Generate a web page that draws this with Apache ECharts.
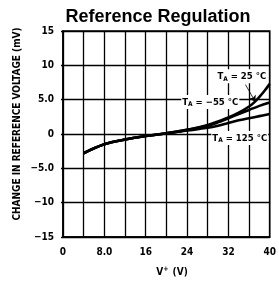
<!DOCTYPE html>
<html><head><meta charset="utf-8">
<script src="https://cdn.jsdelivr.net/npm/echarts@6/dist/echarts.min.js"></script>
<style>html,body{margin:0;padding:0;background:#fff}#c{width:279px;height:285px}</style>
</head><body><div id="c"></div>
<script>
const title = 'Reference Regulation';
const yAxisTitle = 'CHANGE IN REFERENCE VOLTAGE (mV)';
const xTicks = [0, 8, 16, 24, 32, 40];
const yTicks = [-15, -10, -5, 0, 5, 10, 15];

const v25 = [4, 8, 12, 16, 20, 24, 28, 32, 34, 36, 37, 38, 39, 40];
const d25 = [-2.8, -1.5, -0.8, -0.3, 0.1, 0.6, 1.3, 2.4, 3.1, 4.0, 4.6, 5.4, 6.3, 7.3];
const vM55 = [4, 8, 12, 16, 20, 24, 28, 30, 32, 34, 36, 38, 40];
const dM55 = [-2.8, -1.5, -0.8, -0.3, 0.1, 0.6, 1.2, 1.7, 2.3, 2.9, 3.5, 4.1, 4.6];
const v125 = [4, 8, 12, 16, 20, 24, 28, 30, 32, 34, 36, 38, 40];
const d125 = [-2.8, -1.5, -0.8, -0.3, 0.1, 0.5, 0.9, 1.2, 1.6, 2.0, 2.3, 2.6, 2.9];

const FONT = "'Liberation Sans Narrow','DejaVu Sans Condensed','Roboto Condensed',sans-serif";
const pair = (xs, ys) => xs.map((x, i) => [x, ys[i]]);
const lineStyle = {color: '#000', width: 2.6};
const lbl = (t) => ({
  show: true, position: 'inside', color: '#000', fontFamily: FONT, fontWeight: 'bold', fontSize: 9.5,
  backgroundColor: '#fff', padding: [1, 1],
  formatter: '{a|T}{s|A}{a| = ' + t + '°C}',
  rich: {a: {fontFamily: FONT, fontWeight: 'bold', fontSize: 9.5, color: '#000'},
         s: {fontFamily: FONT, fontWeight: 'bold', fontSize: 6.5, color: '#000', verticalAlign: 'bottom', padding: [5, 0, 0, 0]}}
});

const chart = echarts.init(document.getElementById('c'), null, {renderer: 'canvas'});
chart.setOption({
  animation: false,
  backgroundColor: '#fff',
  title: {text: title, left: 153, top: 3, textAlign: 'center',
    textStyle: {fontFamily: "'Liberation Sans','Arial',sans-serif", fontWeight: 'bold', fontSize: 18, color: '#000'}},
  grid: {left: 63, right: 6, top: 31, bottom: 48, show: true, borderColor: '#000', borderWidth: 1.5},
  xAxis: {type: 'value', min: 0, max: 40, interval: 4,
    axisLine: {show: true, onZero: false, lineStyle: {color: '#000', width: 1.5}},
    axisTick: {show: false},
    splitLine: {show: true, lineStyle: {color: '#000', width: 1.3}},
    axisLabel: {margin: 10, color: '#000', fontFamily: FONT, fontWeight: 'bold', fontSize: 10,
      formatter: v => xTicks.includes(v) ? (v === 8 ? '8.0' : String(v)) : ''}},
  yAxis: {type: 'value', min: -15, max: 15, interval: 5,
    axisLine: {show: true, onZero: false, lineStyle: {color: '#000', width: 1.5}},
    axisTick: {show: true, length: 2, lineStyle: {color: '#000', width: 1.3}},
    splitLine: {show: true, lineStyle: {color: '#000', width: 1.3}},
    axisLabel: {margin: 9, color: '#000', fontFamily: FONT, fontWeight: 'bold', fontSize: 10,
      formatter: v => yTicks.includes(v) ? (v === 0 ? '0' : (Math.abs(v) === 5 ? (v < 0 ? '\u22125.0' : '5.0') : (v < 0 ? '\u2212' + Math.abs(v) : String(v)))) : ''}},
  series: [
    {name: '-55', type: 'line', data: pair(vM55, dM55), smooth: 0.4, showSymbol: false, lineStyle,
      markPoint: {symbol: 'circle', symbolSize: 0, data: [{coord: [28.5, 4.65], label: lbl('\u221255 ')}]}},
    {name: '125', type: 'line', data: pair(v125, d125), smooth: 0.4, showSymbol: false, lineStyle,
      markPoint: {symbol: 'circle', symbolSize: 0, data: [{coord: [34.2, -0.6], label: lbl('125 ')}]}},
    {name: '25', type: 'line', data: pair(v25, d25), smooth: 0.4, showSymbol: false, lineStyle,
      markPoint: {symbol: 'circle', symbolSize: 0, data: [{coord: [34.6, 8.4], label: lbl('25 ')}]},
      markLine: {silent: true, symbol: ['none', 'arrow'], symbolSize: 6,
        lineStyle: {color: '#000', width: 0.8, type: 'solid'}, label: {show: false},
        data: [[{coord: [35.3, 7.2]}, {coord: [37.2, 4.7]}]]}}
  ],
  graphic: [
    {type: 'text', x: 17, y: 124, rotation: Math.PI / 2,
      style: {text: yAxisTitle, fontFamily: FONT, fontWeight: 'bold', fontSize: 10, fill: '#000', align: 'center', verticalAlign: 'middle'}},
    {type: 'text', x: 172, y: 272,
      style: {text: '{a|V}{s|+}{a| (V)}', align: 'center', verticalAlign: 'middle',
        rich: {a: {fontFamily: FONT, fontWeight: 'bold', fontSize: 10, fill: '#000'},
               s: {fontFamily: FONT, fontWeight: 'bold', fontSize: 7, fill: '#000', verticalAlign: 'top', padding: [0, 1, 5, 0]}}}}
  ]
});
</script></body></html>
